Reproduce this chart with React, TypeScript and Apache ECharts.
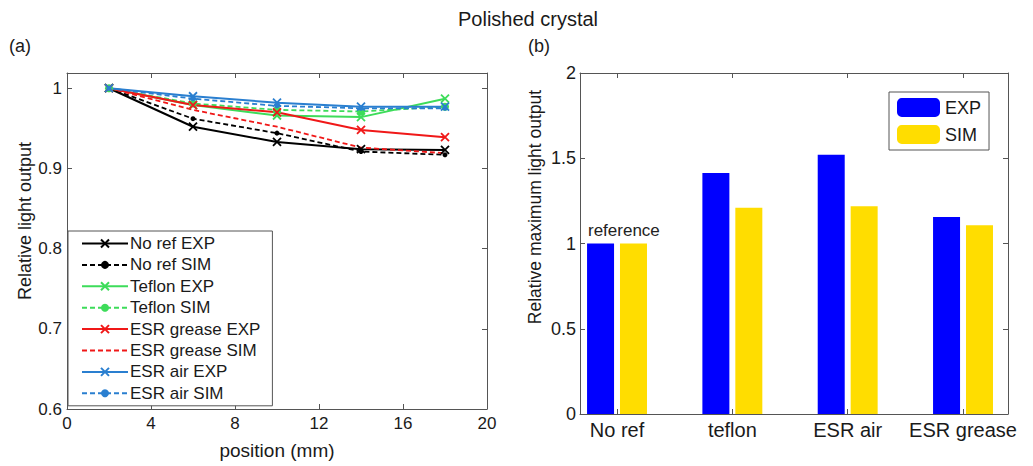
import React, { useEffect, useRef } from "react";
import * as echarts from "echarts";

const positions = [2, 6, 10, 14, 18];
const noRefExp = [1, 0.952, 0.933, 0.924, 0.923];
const noRefSim = [1, 0.962, 0.944, 0.921, 0.917];
const teflonExp = [1, 0.979, 0.966, 0.964, 0.987];
const teflonSim = [1, 0.981, 0.973, 0.971, 0.977];
const esrGreaseExp = [1, 0.979, 0.97, 0.948, 0.939];
const esrGreaseSim = [1, 0.973, 0.952, 0.926, 0.919];
const esrAirExp = [1, 0.99, 0.982, 0.977, 0.977];
const esrAirSim = [1, 0.987, 0.978, 0.975, 0.975];

const leftYTicks = [0.6, 0.7, 0.8, 0.9, 1];

const barCategories = ["No ref", "teflon", "ESR air", "ESR grease"];
const barIndex = [1, 2, 3, 4];
const expValues = [1.0, 1.413, 1.52, 1.156];
const simValues = [1.0, 1.209, 1.218, 1.107];

const FONT = "Liberation Sans, Arial, sans-serif";
const CROSS = "path://M0,0L10,10M10,0L0,10";
const FRAME = "#555";
const TXT = "#1a1a1a";

export default function App() {
  const ref = useRef<HTMLDivElement>(null);
  useEffect(() => {
    if (!ref.current) return;
    const chart = echarts.init(ref.current, null, { renderer: "svg" });
    const pts = (arr: number[]) => positions.map((p, i) => [p, arr[i]]);
    const lineSeries = (
      name: string,
      arr: number[],
      color: string,
      dashed: boolean,
      symbol: string,
      size: number
    ) => ({
      name,
      type: "line",
      xAxisIndex: 0,
      yAxisIndex: 0,
      data: pts(arr),
      symbol,
      symbolSize: size,
      showSymbol: symbol !== "none",
      lineStyle: { color, width: dashed ? 1.8 : 2, type: dashed ? [5, 3] : "solid" },
      itemStyle: symbol === CROSS
        ? { color: "rgba(0,0,0,0)", borderColor: color, borderWidth: 1.8 }
        : { color, borderColor: color, borderWidth: 0 },
    });
    const axisCommon = {
      axisLine: { show: true, onZero: false, lineStyle: { color: FRAME, width: 1 } },
      axisTick: { show: true, inside: true, length: 5, lineStyle: { color: FRAME } },
      splitLine: { show: false },
    };
    const option: any = {
      animation: false,
      backgroundColor: "#fff",
      textStyle: { fontFamily: FONT },
      graphic: [
        {
          type: "text",
          x: 528,
          y: 19,
          style: {
            text: "Polished crystal",
            fontSize: 20,
            fill: TXT,
            fontFamily: FONT,
            align: "center",
            verticalAlign: "middle",
          },
        },
        { type: "text", left: 9, top: 37, style: { text: "(a)", fontSize: 18, fill: TXT, fontFamily: FONT } },
        { type: "text", left: 528, top: 37, style: { text: "(b)", fontSize: 18, fill: TXT, fontFamily: FONT } },
        { type: "text", left: 588, top: 222, style: { text: "reference", fontSize: 17, fill: "#222", fontFamily: FONT } },
        {
          type: "text",
          x: 25,
          y: 221,
          rotation: Math.PI / 2,
          style: {
            text: "Relative light output",
            fontSize: 18,
            fill: TXT,
            fontFamily: FONT,
            align: "center",
            verticalAlign: "middle",
          },
        },
        {
          type: "text",
          x: 535,
          y: 207,
          rotation: Math.PI / 2,
          style: {
            text: "Relative maximum light output",
            fontSize: 17.5,
            fill: TXT,
            fontFamily: FONT,
            align: "center",
            verticalAlign: "middle",
          },
        },
      ],
      grid: [
        { left: 67, top: 73, right: 546, bottom: 57 },
        { left: 580, top: 73, right: 25, bottom: 52 },
      ],
      xAxis: [
        {
          ...axisCommon,
          gridIndex: 0,
          type: "value",
          min: 0,
          max: 20,
          interval: 4,
          name: "position (mm)",
          nameLocation: "middle",
          nameGap: 32,
          nameTextStyle: { fontSize: 19, color: TXT, fontFamily: FONT },
          axisLabel: { fontSize: 17, color: TXT, margin: 6, fontFamily: FONT },
        },
        {
          ...axisCommon,
          gridIndex: 0,
          type: "value",
          position: "top",
          min: 0,
          max: 20,
          interval: 4,
          axisLabel: { show: false },
        },
        {
          ...axisCommon,
          gridIndex: 1,
          type: "value",
          min: 0.679,
          max: 4.39,
          axisTick: { ...axisCommon.axisTick, customValues: barIndex },
          axisLabel: {
            customValues: barIndex,
            fontSize: 20,
            color: TXT,
            margin: 6,
            fontFamily: FONT,
            formatter: (v: number) => barCategories[Math.round(v) - 1] ?? "",
          },
        },
        {
          ...axisCommon,
          gridIndex: 1,
          type: "value",
          position: "top",
          min: 0.679,
          max: 4.39,
          axisTick: { ...axisCommon.axisTick, customValues: barIndex },
          axisLabel: { show: false },
        },
      ],
      yAxis: [
        {
          ...axisCommon,
          gridIndex: 0,
          type: "value",
          min: 0.6,
          max: 1.019,
          axisTick: { ...axisCommon.axisTick, customValues: leftYTicks },
          axisLabel: {
            customValues: leftYTicks,
            fontSize: 17,
            color: TXT,
            margin: 5,
            fontFamily: FONT,
            formatter: (v: number) => String(Math.round(v * 10) / 10),
          },
        },
        {
          ...axisCommon,
          gridIndex: 0,
          type: "value",
          position: "right",
          min: 0.6,
          max: 1.019,
          axisTick: { ...axisCommon.axisTick, customValues: leftYTicks },
          axisLabel: { show: false },
        },
        {
          ...axisCommon,
          gridIndex: 1,
          type: "value",
          min: 0,
          max: 2,
          interval: 0.5,
          axisLabel: { fontSize: 18, color: TXT, margin: 4, fontFamily: FONT },
        },
        {
          ...axisCommon,
          gridIndex: 1,
          type: "value",
          position: "right",
          min: 0,
          max: 2,
          interval: 0.5,
          axisLabel: { show: false },
        },
      ],
      legend: [
        {
          data: [
            { name: "No ref EXP" },
            { name: "No ref SIM" },
            { name: "Teflon EXP" },
            { name: "Teflon SIM" },
            { name: "ESR grease EXP" },
            { name: "ESR grease SIM", itemStyle: { color: "rgba(0,0,0,0)", opacity: 0 } },
            { name: "ESR air EXP" },
            { name: "ESR air SIM" },
          ],
          orient: "vertical",
          left: 68,
          top: 231,
          padding: [4, 12, 4, 13],
          itemGap: 4.4,
          itemWidth: 46,
          itemHeight: 10,
          backgroundColor: "#fff",
          borderColor: FRAME,
          borderWidth: 1,
          textStyle: { fontSize: 17, lineHeight: 17, color: TXT, fontFamily: FONT, padding: [0, 0, 0, -3] },
        },
        {
          data: ["EXP", "SIM"],
          orient: "vertical",
          left: 889,
          top: 92,
          padding: [6, 8, 6, 8],
          itemGap: 8,
          itemWidth: 43,
          itemHeight: 19,
          backgroundColor: "#fff",
          borderColor: FRAME,
          borderWidth: 1,
          textStyle: { fontSize: 18, color: TXT, fontFamily: FONT },
        },
      ],
      series: [
        lineSeries("No ref EXP", noRefExp, "#000000", false, CROSS, 8),
        lineSeries("No ref SIM", noRefSim, "#000000", true, "circle", 5),
        lineSeries("Teflon EXP", teflonExp, "#3ddc5a", false, CROSS, 8),
        lineSeries("Teflon SIM", teflonSim, "#3ddc5a", true, "circle", 8),
        lineSeries("ESR grease EXP", esrGreaseExp, "#f01818", false, CROSS, 8),
        lineSeries("ESR grease SIM", esrGreaseSim, "#f01818", true, "none", 0),
        lineSeries("ESR air EXP", esrAirExp, "#2a7fd0", false, CROSS, 8),
        lineSeries("ESR air SIM", esrAirSim, "#2a7fd0", true, "circle", 5),
        {
          name: "EXP",
          type: "bar",
          xAxisIndex: 2,
          yAxisIndex: 2,
          data: barIndex.map((x, i) => [x, expValues[i]]),
          barWidth: 27,
          barGap: "22%",
          itemStyle: { color: "#0000ff" },
        },
        {
          name: "SIM",
          type: "bar",
          xAxisIndex: 2,
          yAxisIndex: 2,
          data: barIndex.map((x, i) => [x, simValues[i]]),
          barWidth: 27,
          barGap: "22%",
          itemStyle: { color: "#ffdd00" },
        },
      ],
    };
    chart.setOption(option);
    return () => chart.dispose();
  }, []);
  return (
    <div
      ref={ref}
      style={{ position: "fixed", left: 0, top: 0, width: 1033, height: 466, background: "#fff" }}
    />
  );
}
